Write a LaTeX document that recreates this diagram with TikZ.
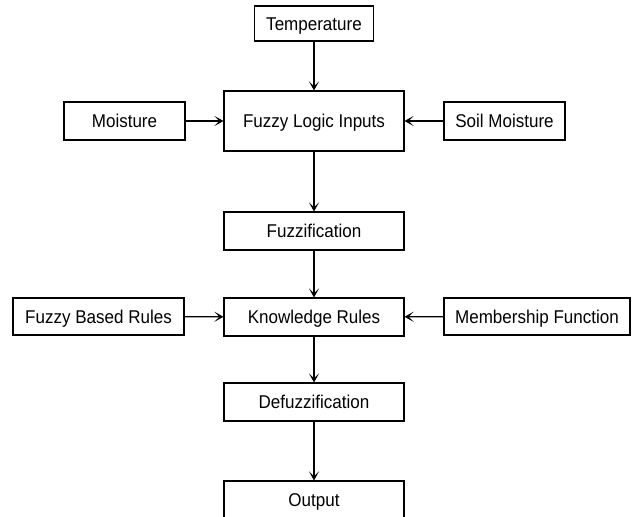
\documentclass[tikz,border=0pt]{standalone}
\usepackage{fontspec}
\setmainfont{Liberation Sans}[FakeStretch=0.92]
\usetikzlibrary{arrows.meta}
\begin{document}
\begin{tikzpicture}[x=1pt,y=-1pt,
  box/.style={draw, line width=1.1pt, inner sep=0pt, font=\fontsize{18.5}{20}\selectfont, text height=13.2pt, text depth=0pt, align=center},
  conn/.style={line width=1.1pt, -{Stealth[length=9pt,width=10pt,inset=5pt]}}]
\useasboundingbox (0,0) rectangle (638,517);
\begin{scope}
\clip (0,0) rectangle (638,517);
\node[box, minimum width=119pt, minimum height=35pt] (temp) at (314,23.5) {Temperature};
\node[box, minimum width=180pt, minimum height=60pt] (fli) at (314,121) {Fuzzy Logic Inputs};
\node[box, minimum width=121pt, minimum height=38pt] (moist) at (124.5,121) {Moisture};
\node[box, minimum width=121pt, minimum height=38pt] (soil) at (504.5,121) {Soil Moisture};
\node[box, minimum width=180pt, minimum height=38pt] (fuzz) at (314,231) {Fuzzification};
\node[box, minimum width=180pt, minimum height=38pt] (kr) at (314,317) {Knowledge Rules};
\node[box, minimum width=171pt, minimum height=37pt] (fbr) at (98.5,316.5) {Fuzzy Based Rules};
\node[box, minimum width=186pt, minimum height=37pt] (mf) at (537,316.5) {Membership Function};
\node[box, minimum width=180pt, minimum height=38pt] (defuzz) at (314,402) {Defuzzification};
\node[box, minimum width=180pt, minimum height=38pt] (out) at (314,500) {Output};
\draw[conn] (temp) -- (fli);
\draw[conn] (moist) -- (fli);
\draw[conn] (soil) -- (fli);
\draw[conn] (fli) -- (fuzz);
\draw[conn] (fuzz) -- (kr);
\draw[conn] (fbr) -- (kr);
\draw[conn] (mf) -- (kr);
\draw[conn] (kr) -- (defuzz);
\draw[conn] (defuzz) -- (out);
\end{scope}
\end{tikzpicture}
\end{document}
